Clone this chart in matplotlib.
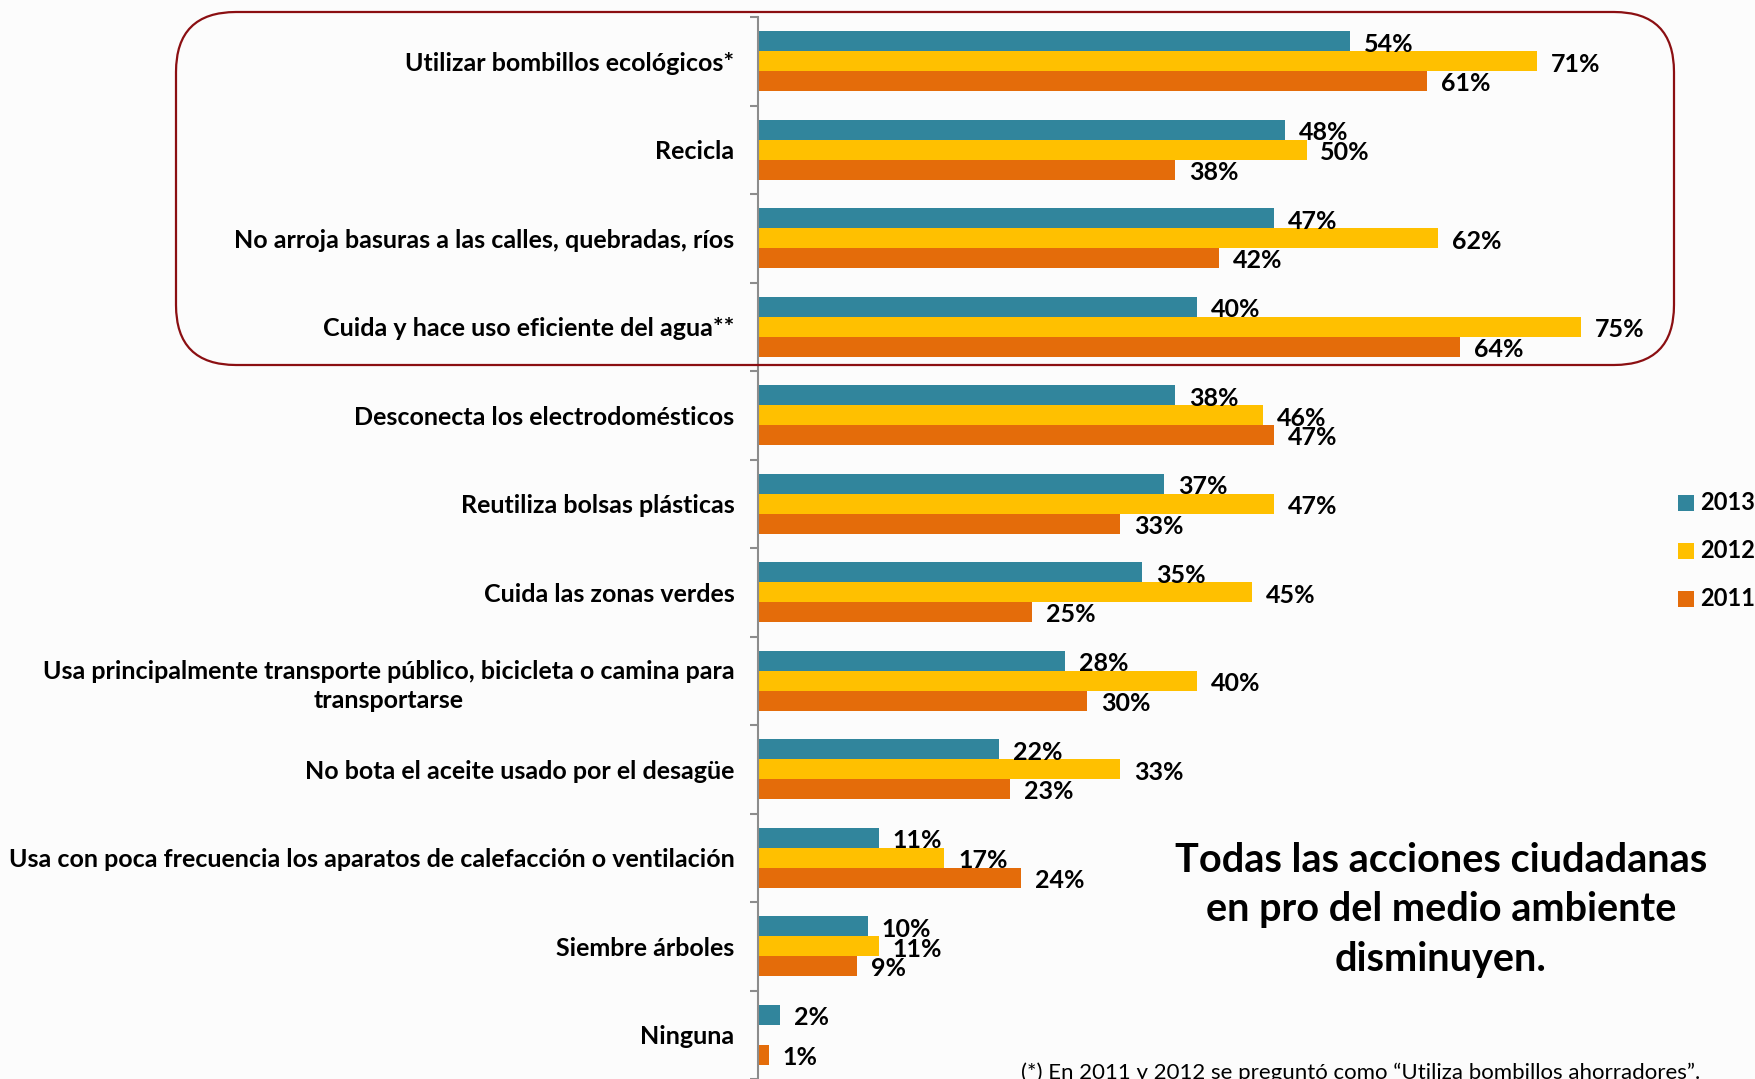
import matplotlib
matplotlib.use("Agg")
import matplotlib.pyplot as plt
from matplotlib.patches import FancyBboxPatch, Rectangle
import numpy as np

plt.rcParams['font.family'] = ['Lato', 'DejaVu Sans']

categories = [
    "Utilizar bombillos ecológicos*",
    "Recicla",
    "No arroja basuras a las calles, quebradas, ríos",
    "Cuida y hace uso eficiente del agua**",
    "Desconecta los electrodomésticos",
    "Reutiliza bolsas plásticas",
    "Cuida las zonas verdes",
    "Usa principalmente transporte público, bicicleta o camina para\ntransportarse",
    "No bota el aceite usado por el desagüe",
    "Usa con poca frecuencia los aparatos de calefacción o ventilación",
    "Siembre árboles",
    "Ninguna",
]
years = ["2013", "2012", "2011"]
v2013 = [54, 48, 47, 40, 38, 37, 35, 28, 22, 11, 10, 2]
v2012 = [71, 50, 62, 75, 46, 47, 45, 40, 33, 17, 11, None]
v2011 = [61, 38, 42, 64, 47, 33, 25, 30, 23, 24, 9, 1]
colors = ["#31859C", "#FFC000", "#E46C0A"]

title_text = "Todas las acciones ciudadanas\nen pro del medio ambiente\ndisminuyen."
footnote = "(*) En 2011 y 2012 se preguntó como \u201cUtiliza bombillos ahorradores\u201d."

W, H = 1756, 1079
fig = plt.figure(figsize=(W / 100, H / 100), dpi=100)
bg = "#fcfcfc"
fig.patch.set_facecolor(bg)

ax_left = 758 / W
ax_top = 17
n = len(categories)
spacing_px = 89
ax_h = (H - ax_top) / H
ax = fig.add_axes([ax_left, 0, 90 * 10.97 / W, ax_h])
ax.set_facecolor("none")

ylim_bottom = -0.5 + (H - ax_top) / spacing_px
ax.set_ylim(ylim_bottom, -0.5)
ax.set_xlim(0, 90)

bh = 20 / spacing_px
y = np.arange(n)
for k, (vals, c) in enumerate(zip([v2013, v2012, v2011], colors)):
    offs = (k - 1) * bh
    for i, v in enumerate(vals):
        if v is None:
            continue
        ax.barh(y[i] + offs, v, height=bh, color=c, edgecolor="none")
        ax.annotate(f"{v}%", (v, y[i] + offs), xytext=(10, -2),
                    textcoords="offset points", ha="left", va="center",
                    fontsize=18, fontweight="bold", color="black")

for s in ["top", "right", "bottom"]:
    ax.spines[s].set_visible(False)
ax.spines["left"].set_color("#8c8c8c")
ax.spines["left"].set_linewidth(1.5)
ax.set_xticks([])
ax.set_yticks(y)
ax.set_yticklabels(categories, fontsize=18, fontweight="bold",
                   multialignment="center", linespacing=1.35)
ax.tick_params(axis="y", which="major", length=0, pad=17)
ax.set_yticks(np.arange(n + 1) - 0.5, minor=True)
ax.tick_params(axis="y", which="minor", length=6, width=1.5, color="#8c8c8c", direction="out")

# rounded highlight box (pixel coords -> inches)
def px2in(x, yy):
    return x / 100, (H - yy) / 100

x0, y0 = px2in(176, 365)
x1, y1 = px2in(1674, 12)
box = FancyBboxPatch((x0, y0), x1 - x0, y1 - y0,
                     boxstyle="round,pad=0,rounding_size=0.6",
                     transform=fig.dpi_scale_trans, facecolor="none",
                     edgecolor="#8B0F12", linewidth=1.6, zorder=5)
fig.patches.append(box)

# legend
for k, (yr, c) in enumerate(zip(years, colors)):
    cy = 503 + k * 48
    lx, ly = px2in(1678, cy + 8)
    fig.patches.append(Rectangle((lx, ly), 0.16, 0.16, transform=fig.dpi_scale_trans,
                                 facecolor=c, edgecolor="none"))
    tx, ty = px2in(1700, cy)
    fig.text(tx / (W / 100), ty / (H / 100), yr, fontsize=17, fontweight="bold",
             ha="left", va="center")

fig.text(1441 / W, 1 - 910 / H, title_text, fontsize=28.5, fontweight="bold",
         ha="center", va="center", linespacing=1.4)
fig.text(1361 / W, 1 - 1073 / H, footnote, fontsize=16, ha="center", va="center")

fig.savefig("out.png", dpi=100, facecolor=bg)
